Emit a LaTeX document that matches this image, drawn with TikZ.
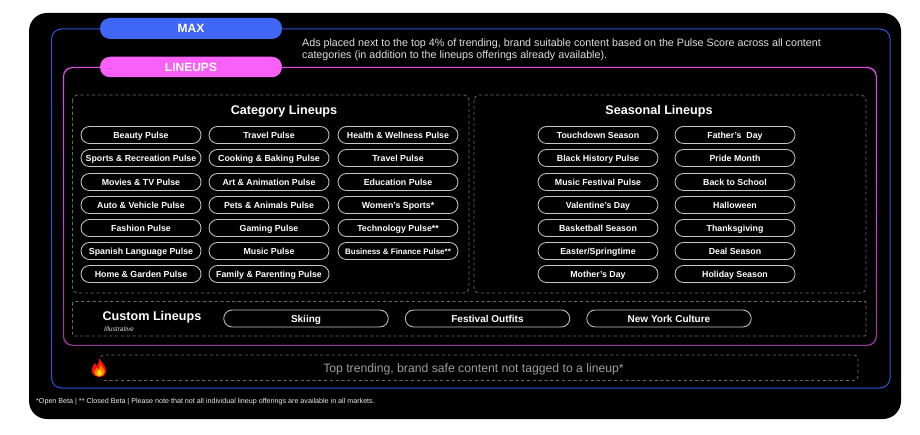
\documentclass[tikz,border=0pt]{standalone}
\usepackage{fontspec}
\setmainfont{Liberation Sans}
\usetikzlibrary{shapes.misc}
\definecolor{bluef}{HTML}{3F66F5}
\definecolor{bluel}{HTML}{2F55D8}
\definecolor{pinkf}{HTML}{F860F8}
\definecolor{pinkl}{HTML}{E24CE2}
\definecolor{pinkd}{HTML}{96389A}
\definecolor{dash}{HTML}{6A6A6A}
\definecolor{pillline}{HTML}{C8C8C8}
\tikzset{
  x=1pt,y=-1pt,
  dashbox/.style={draw=dash,line width=0.8pt,dash pattern=on 3.2pt off 2.6pt,rounded corners=5pt},
  pill/.style={draw=pillline,line width=0.8pt,rounded rectangle,minimum width=120pt,minimum height=17pt,inner sep=0pt,text=white,text height=6.3pt,text depth=0pt,font=\fontsize{8.8}{10}\selectfont\bfseries},
  custompill/.style={pill,minimum width=164.5pt,minimum height=17pt,text height=7.2pt,font=\fontsize{10}{11}\selectfont\bfseries},
  tag/.style={rounded corners=10pt,minimum width=182pt,inner sep=0pt,text=white,text height=8.6pt,text depth=0pt,font=\fontsize{12}{14}\selectfont\bfseries},
  head/.style={text=white,inner sep=0pt,text height=9pt,text depth=0pt,font=\fontsize{12.6}{15}\selectfont\bfseries},
  note/.style={text=white,inner sep=0pt,anchor=north west,align=left}
}
\begin{document}
\begin{tikzpicture}
\useasboundingbox (0,0) rectangle (920,435);
\fill[white] (0,0) rectangle (920,435);
\fill[black,rounded corners=18pt] (29,13) rectangle (901,419);
% outer frames
\draw[bluel,line width=1pt,rounded corners=10pt] (51.5,29) rectangle (890,388);
\shade[top color=pinkl,bottom color=pinkd,middle color=pinkl!75!pinkd,even odd rule,rounded corners=9pt]
   (63,67) rectangle (876.8,345.8) (64,68) rectangle (875.8,344.8);
% tags
\node[tag,fill=bluef,minimum height=21pt] (max) at (191,28.5) {MAX};
\node[tag,fill=pinkf,minimum height=20.5pt] (lineups) at (191,67) {LINEUPS};
\node[note,text=white!88!black,font=\fontsize{10.7}{12.2}\selectfont] (desc) at (302,38.5) {Ads placed next to the top 4\% of trending, brand suitable content based on the Pulse Score across all content\\categories (in addition to the lineups offerings already available).};
% dashed boxes
\draw[dashbox] (72.5,95) rectangle (469,293);
\draw[dashbox] (474,95) rectangle (866,293);
\draw[dashbox,rounded corners=1pt] (72.5,301.5) rectangle (866,336);
\draw[dashbox,rounded corners=4pt] (100,355) rectangle (858,380.5);
\node[head] (cat) at (284,110) {Category Lineups};
\node[head] (sea) at (659,110) {Seasonal Lineups};
% category pills
\foreach \nm/\cx/\cy/\tx in {
 a1/141/135/Beauty Pulse,
 a2/141/158/Sports \& Recreation Pulse,
 a3/141/182/Movies \& TV Pulse,
 a4/141/205/Auto \& Vehicle Pulse,
 a5/141/228/Fashion Pulse,
 a6/141/251/Spanish Language Pulse,
 a7/141/274/Home \& Garden Pulse,
 b1/269/135/Travel Pulse,
 b2/269/158/Cooking \& Baking Pulse,
 b3/269/182/Art \& Animation Pulse,
 b4/269/205/Pets \& Animals Pulse,
 b5/269/228/Gaming Pulse,
 b6/269/251/Music Pulse,
 b7/269/274/Family \& Parenting Pulse,
 c1/398/135/Health \& Wellness Pulse,
 c2/398/158/Travel Pulse,
 c3/398/182/Education Pulse,
 c4/398/205/Women's Sports*,
 c5/398/228/Technology Pulse**,
 d1/598/135/Touchdown Season,
 d2/598/158/Black History Pulse,
 d3/598/182/Music Festival Pulse,
 d4/598/205/Valentine's Day,
 d5/598/228/Basketball Season,
 d6/598/251/{Easter/Springtime},
 d7/598/274/Mother's Day,
 e1/735/135/Father's\ \ Day,
 e2/735/158/Pride Month,
 e3/735/182/Back to School,
 e4/735/205/Halloween,
 e5/735/228/Thanksgiving,
 e6/735/251/Deal Season,
 e7/735/274/Holiday Season}
 {\node[pill] (\nm) at (\cx,\cy) {\tx};}
\node[pill,font=\fontsize{8}{10}\selectfont\bfseries] (c6) at (398,251) {Business \& Finance Pulse**};
% custom
\node[head] (cus) at (152,316) {Custom Lineups};
\node[inner sep=0pt,anchor=west,text=white!85!black,font=\fontsize{6.6}{7}\selectfont\itshape] (ill) at (104,329) {Illustrative};
\node[custompill] (f1) at (306,318.5) {Skiing};
\node[custompill] (f2) at (487.5,318.5) {Festival Outfits};
\node[custompill] (f3) at (669,318.5) {New York Culture};
% bottom
\node[inner sep=0pt,text=white!62!black,text height=8.8pt,text depth=0pt,font=\fontsize{12.2}{13}\selectfont] (top) at (473.5,368) {Top trending, brand safe content not tagged to a lineup*};
% flame
\fill[black] (90,357) rectangle (109,379);
\fill[red!85!orange] (99,358) .. controls (101,362) and (103.5,363) .. (105.5,368) .. controls (107.5,373) and (104,377) .. (99.5,377) .. controls (94,377) and (91,373) .. (92,368.5) .. controls (93,366) and (94,365) .. (94.5,363) .. controls (96,364) and (96.5,365) .. (97,366) .. controls (98.5,364) and (99.5,361) .. (99,358) -- cycle;
\fill[orange] (100,364) .. controls (101,367) and (105,369) .. (104.5,372) .. controls (104,375.5) and (101.5,376.5) .. (99.5,376.5) .. controls (96,376.5) and (94,374) .. (94.5,371) .. controls (95,369.5) and (96,369) .. (96.5,368) .. controls (97.5,369) and (98,369) .. (98.5,369.5) .. controls (99.5,368) and (100.5,366) .. (100,364) -- cycle;
\fill[yellow!85!orange] (99.5,369.5) .. controls (101,371) and (102.5,372.5) .. (102,374) .. controls (101.5,376) and (97.5,376.5) .. (96.8,374) .. controls (96.5,372.5) and (98.5,371.5) .. (99.5,369.5) -- cycle;
% footnote
\node[inner sep=0pt,anchor=west,text=white!92!black,font=\fontsize{7.15}{8}\selectfont] (foot) at (36,402) {*Open Beta | ** Closed Beta | Please note that not all individual lineup offerings are available in all markets.};
\end{tikzpicture}
\end{document}
